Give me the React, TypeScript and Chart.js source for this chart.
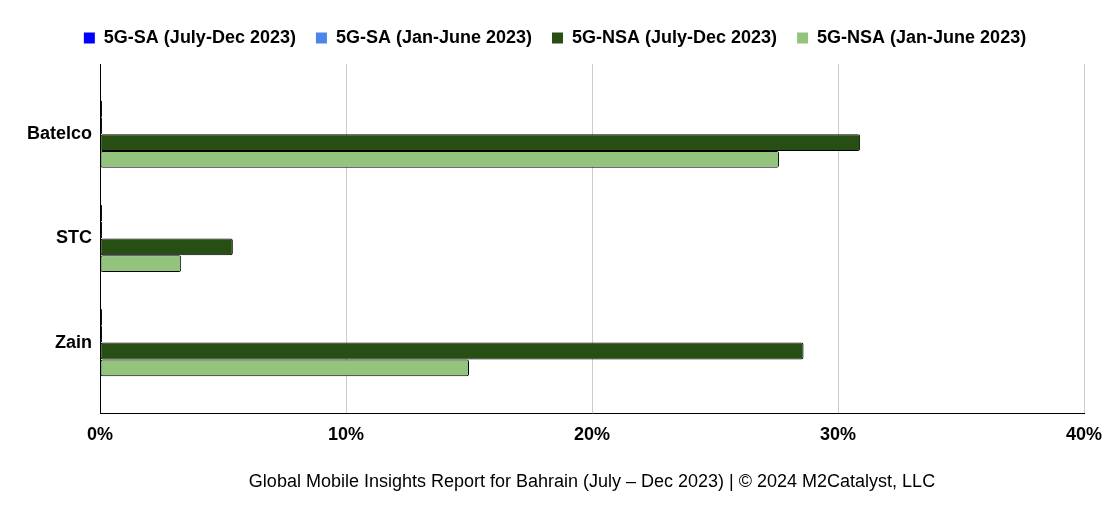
import { useEffect, useRef } from "react";
import { Chart, registerables } from "chart.js";

Chart.register(...registerables);

const operators = ["Batelco", "STC", "Zain"];
const saJulDec = [0.08, 0.08, 0.08];
const saJanJun = [0.08, 0.08, 0.08];
const nsaJulDec = [30.9, 5.4, 28.6];
const nsaJanJun = [27.6, 3.3, 15.0];
const xTicks = [0, 10, 20, 30, 40];

const FONT = "'Liberation Sans', Arial, sans-serif";

function toPoints(values: number[]) {
  return values.map((v, i) => ({ x: v, y: i }));
}

function App() {
  const chartRef = useRef<HTMLCanvasElement | null>(null);

  useEffect(() => {
    document.body.style.margin = "0";
    if (!chartRef.current) return;
    const ctx = chartRef.current.getContext("2d");
    if (!ctx) return;

    const series = [
      { label: "5G-SA (July-Dec 2023)", data: saJulDec, color: "#0000ff" },
      { label: "5G-SA (Jan-June 2023)", data: saJanJun, color: "#4a86e8" },
      { label: "5G-NSA (July-Dec 2023)", data: nsaJulDec, color: "#274e13" },
      { label: "5G-NSA (Jan-June 2023)", data: nsaJanJun, color: "#93c47d" },
    ];

    const chart = new Chart(ctx, {
      type: "bar",
      data: {
        datasets: series.map((s) => ({
          label: s.label,
          data: toPoints(s.data),
          backgroundColor: s.color,
          borderColor: "#000000",
          borderWidth: 1,
          borderSkipped: false,
          borderRadius: 2,
          categoryPercentage: 0.645,
          barPercentage: 1,
        })),
      },
      options: {
        indexAxis: "y",
        animation: false,
        responsive: false,
        maintainAspectRatio: false,
        layout: { padding: { top: 9, left: 26, right: 26, bottom: 0 } },
        plugins: {
          tooltip: { enabled: false },
          // empty spacer between legend and plot
          title: {
            display: true,
            text: "",
            position: "top",
            weight: 500,
            padding: 0,
            font: { size: 7, lineHeight: 1 },
          },
          legend: {
            position: "top",
            labels: {
              boxWidth: 11,
              boxHeight: 11,
              padding: 20,
              color: "#000000",
              font: { family: FONT, size: 18, weight: "bold" },
              generateLabels: (c) =>
                c.data.datasets.map((d, i) => ({
                  text: d.label as string,
                  fillStyle: d.backgroundColor as string,
                  strokeStyle: d.backgroundColor as string,
                  lineWidth: 0,
                  hidden: false,
                  datasetIndex: i,
                  fontColor: "#000000",
                })),
            },
          },
        },
        scales: {
          x: {
            type: "linear",
            min: 0,
            max: 40,
            afterBuildTicks: (scale) => {
              scale.ticks = xTicks.map((v) => ({ value: v }));
            },
            afterFit: (scale) => {
              scale.paddingLeft = 0;
              scale.paddingRight = 0;
            },
            grid: { color: "#cccccc", drawTicks: false },
            border: { color: "#000000" },
            ticks: {
              padding: 10,
              color: "#000000",
              font: { family: FONT, size: 18, weight: "bold" },
              callback: (v) => `${v}%`,
            },
            title: {
              display: true,
              text: "Global Mobile Insights Report for Bahrain (July – Dec 2023) | © 2024 M2Catalyst, LLC",
              color: "#000000",
              font: { family: FONT, size: 18 },
              padding: { top: 16, bottom: 24 },
            },
          },
          y: {
            type: "linear",
            reverse: true,
            offset: false,
            min: -0.673,
            max: 2.683,
            afterBuildTicks: (scale) => {
              scale.ticks = operators.map((_, i) => ({ value: i }));
            },
            afterFit: (scale) => {
              scale.width = 74;
            },
            grid: { display: false, drawTicks: false },
            border: { display: true, color: "#000000" },
            ticks: {
              padding: 8,
              color: "#000000",
              font: { family: FONT, size: 18, weight: "bold" },
              callback: (v) => operators[Number(v)] ?? "",
            },
          },
        },
      },
    });

    return () => {
      chart.destroy();
    };
  }, []);

  return (
    <div style={{ width: 1110, height: 517 }}>
      <canvas ref={chartRef} width="1110" height="517"></canvas>
    </div>
  );
}

export default App;
